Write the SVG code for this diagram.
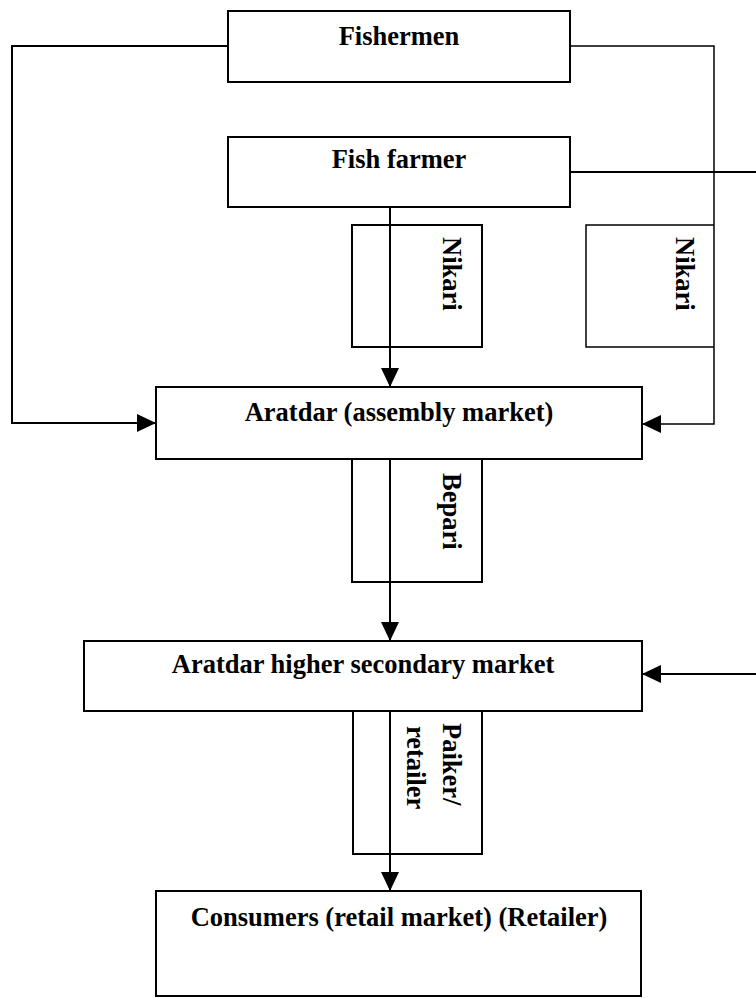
<svg xmlns="http://www.w3.org/2000/svg" width="756" height="998" viewBox="0 0 756 998">
<style>
.box{fill:#fff;stroke:#000;stroke-width:2}
.lbl{fill:none;stroke:#000;stroke-width:2}
.ln{fill:none;stroke:#000;stroke-width:2}
.thin{fill:none;stroke:#000;stroke-width:1.5}
text{font-family:"Liberation Serif","Times New Roman",serif;font-weight:bold;font-size:26.5px;fill:#000}
.c{text-anchor:middle}
</style>
<defs>
<marker id="arr" markerUnits="userSpaceOnUse" markerWidth="20" markerHeight="18" refX="19" refY="9" orient="auto">
<path d="M0,0 L19,9 L0,18 z" fill="#000"/>
</marker>
</defs>
<rect width="756" height="998" fill="#fff"/>
<g id="connectors">
<polyline class="ln" points="228,46 12,46 12,423 156,423" marker-end="url(#arr)"/>
<polyline class="thin" points="570,46 714,46 714,424 642,424" marker-end="url(#arr)"/>
<line class="ln" x1="570" y1="172" x2="756" y2="172"/>
<line class="ln" x1="390" y1="207" x2="390" y2="387" marker-end="url(#arr)"/>
<line class="ln" x1="390" y1="459" x2="390" y2="641" marker-end="url(#arr)"/>
<line class="ln" x1="756" y1="674" x2="642" y2="674" marker-end="url(#arr)"/>
<line class="ln" x1="390" y1="711" x2="390" y2="891" marker-end="url(#arr)"/>
</g>
<g id="fishermen">
<rect class="box" x="228" y="11" width="342" height="71"/>
<text class="c" x="399" y="45">Fishermen</text>
</g>
<g id="fish-farmer">
<rect class="box" x="228" y="137" width="342" height="70"/>
<text class="c" x="399" y="168">Fish farmer</text>
</g>
<g id="nikari-left">
<polyline class="lbl" points="390,225 352,225 352,347 482,347 482,225 390,225"/>
<text x="443" y="237" transform="rotate(90 443 237)">Nikari</text>
</g>
<g id="nikari-right">
<polyline class="thin" points="714,225 586,225 586,347 714,347"/>
<text x="676" y="237" transform="rotate(90 676 237)">Nikari</text>
</g>
<g id="aratdar-assembly">
<rect class="box" x="156" y="387" width="486" height="72"/>
<text class="c" x="399" y="421">Aratdar (assembly market)</text>
</g>
<g id="bepari">
<polyline class="lbl" points="352,459 352,582 482,582 482,459"/>
<text x="443" y="473" transform="rotate(90 443 473)">Bepari</text>
</g>
<g id="aratdar-secondary">
<rect class="box" x="84" y="641" width="558" height="70"/>
<text class="c" x="363" y="673">Aratdar higher secondary market</text>
</g>
<g id="paiker">
<polyline class="lbl" points="353,711 353,854 482,854 482,711"/>
<text x="443" y="723" transform="rotate(90 443 723)">Paiker/</text>
<text x="407" y="726" transform="rotate(90 407 726)">retailer</text>
</g>
<g id="consumers">
<rect class="box" x="156" y="891" width="485" height="105"/>
<text class="c" x="399" y="926">Consumers (retail market) (Retailer)</text>
</g>
</svg>
